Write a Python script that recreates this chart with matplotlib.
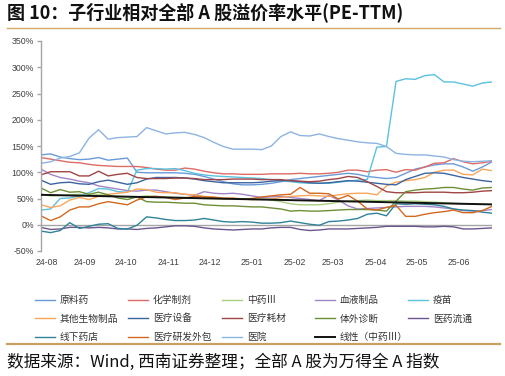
import numpy as np
import pandas as pd
import matplotlib
matplotlib.use("Agg")
import matplotlib.pyplot as plt
from matplotlib.lines import Line2D
from matplotlib.ticker import FuncFormatter, MultipleLocator

plt.rcParams['font.family'] = ['Noto Sans CJK SC', 'DejaVu Sans']

dates = pd.date_range('2024-08-02', periods=48, freq='7D')

yuanliaoyao = [133, 135, 129, 126, 124, 125, 128, 123, 125, 127, 100, 99, 99, 99, 99, 98, 96, 92, 87, 82,
               78, 76, 76, 77, 79, 82, 86, 88, 90, 92, 94, 96, 98, 96, 92, 90, 88, 90, 98, 106,
               110, 114, 116, 116, 110, 102, 110, 120]
huaxuezhiji = [128, 125, 122, 119, 118, 115, 113, 112, 111, 111, 111, 109, 106, 104, 104, 108, 106, 102, 99, 97,
               97, 96, 96, 96, 97, 97, 97, 98, 97, 97, 98, 100, 104, 104, 101, 104, 105, 100, 105, 104,
               110, 117, 118, 126, 120, 116, 118, 121]
zhongyao = [58, 55, 56, 57, 58, 56, 57, 56, 54, 53, 53, 55, 54, 53, 52, 52, 51, 50, 50, 49,
            50, 49, 48, 49, 47, 44, 40, 38, 38, 38, 40, 43, 45, 46, 47, 46, 46, 46, 45, 45,
            44, 43, 42, 41, 40, 40, 39, 39]
xueye = [106, 96, 90, 87, 83, 80, 74, 71, 68, 65, 64, 66, 66, 63, 60, 58, 56, 63, 60, 59,
         60, 58, 55, 52, 53, 54, 52, 50, 48, 46, 56, 47, 36, 30, 31, 32, 33, 34, 35, 35,
         35, 34, 32, 30, 27, 26, 27, 29]
yimiao = [28, 30, 50, 51, 55, 61, 69, 68, 63, 62, 104, 107, 107, 106, 107, 103, 98, 95, 93, 92,
          91, 90, 89, 88, 86, 84, 82, 80, 79, 79, 79, 81, 83, 85, 86, 148, 149, 273, 278, 277,
          284, 286, 272, 272, 268, 264, 270, 272]
qitasw = [38, 33, 36, 47, 52, 48, 54, 58, 60, 62, 68, 67, 62, 61, 61, 58, 57, 54, 53, 51,
          51, 49, 48, 48, 49, 52, 54, 55, 56, 55, 54, 57, 59, 60, 60, 57, 74, 81, 84, 86,
          90, 100, 104, 104, 96, 95, 106, 103]
shebei = [85, 77, 80, 81, 78, 77, 82, 85, 81, 77, 80, 87, 90, 90, 90, 89, 87, 84, 82, 80,
          80, 80, 80, 81, 83, 84, 84, 82, 80, 79, 80, 82, 84, 83, 81, 79, 77, 76, 86, 92,
          98, 99, 98, 94, 90, 87, 84, 82]
haocai = [95, 101, 101, 101, 93, 93, 102, 93, 96, 98, 90, 88, 88, 88, 89, 89, 88, 86, 86, 86,
          87, 87, 87, 86, 86, 86, 84, 83, 82, 83, 86, 88, 92, 90, 82, 73, 63, 61, 61, 61,
          62, 62, 62, 61, 61, 62, 64, 65]
tiwai = [70, 61, 67, 62, 63, 58, 62, 57, 51, 48, 53, 44, 43, 43, 42, 41, 41, 38, 37, 36,
         36, 35, 34, 34, 32, 30, 26, 27, 26, 26, 27, 28, 29, 29, 29, 28, 26, 45, 63, 66,
         68, 69, 71, 71, 68, 66, 70, 71]
liutong = [-5, -9, -8, -5, -5, -6, -5, -6, -8, -8, -9, -7, -6, -4, -2, -2, -3, -6, -8, -9,
           -10, -9, -8, -8, -6, -5, -5, -9, -11, -10, -8, -8, -8, -7, -6, -5, -3, -3, -3, -3,
           -4, -4, -3, -4, -8, -8, -7, -6]
yaodian = [-12, -15, -11, 4, -7, -3, 1, 2, -7, -8, -1, 15, 13, 10, 8, 8, 9, 12, 9, 6,
           5, 6, 5, 3, 3, 4, 7, 4, 1, -1, 6, 7, 9, 12, 20, 22, 17, 40, 39, 40,
           39, 38, 35, 30, 28, 27, 24, 22]
cro = [17, 8, 15, 28, 34, 34, 40, 44, 41, 38, 47, 53, 54, 52, 48, 51, 54, 53, 52, 50,
       50, 49, 50, 53, 55, 57, 58, 71, 60, 60, 59, 49, 56, 45, 30, 28, 33, 37, 16, 16,
       20, 23, 25, 28, 23, 23, 27, 35]
yiyuan = [117, 120, 127, 130, 137, 165, 181, 163, 166, 167, 168, 185, 179, 173, 175, 176, 172, 166, 157, 149,
          144, 144, 144, 143, 150, 168, 177, 170, 169, 173, 168, 164, 161, 158, 156, 155, 149, 136, 134, 133,
          133, 131, 129, 124, 121, 120, 121, 122]

names = ['原料药', '化学制剂', '中药Ⅲ', '血液制品', '疫苗',
         '其他生物制品', '医疗设备', '医疗耗材', '体外诊断', '医药流通',
         '线下药店', '医疗研发外包', '医院']
series = [yuanliaoyao, huaxuezhiji, zhongyao, xueye, yimiao,
          qitasw, shebei, haocai, tiwai, liutong,
          yaodian, cro, yiyuan]
colors = ['#6A9BD8', '#DD6B66', '#A8CF7F', '#A185C8', '#5BC2DE',
          '#F9A65A', '#3C64A0', '#A04545', '#6E8E35', '#6B568F',
          '#2F8398', '#D2691F', '#8DB3E2']
trend_name = '线性（中药Ⅲ）'
month_labels = ['24-08', '24-09', '24-10', '24-11', '24-12', '25-01',
                '25-02', '25-03', '25-04', '25-05', '25-06']

fig = plt.figure(figsize=(5.06, 3.76), dpi=100)
W, H = 506, 376
ax = fig.add_axes([41 / W, 1 - 251 / H, (492 - 41) / W, (251 - 41) / H])

handles = []
for name, vals, c in zip(names, series, colors):
    h, = ax.plot(dates, vals, color=c, lw=1.0, label=name, zorder=2)
    handles.append(h)

# linear trend of 中药Ⅲ
idx = np.arange(len(dates))
coef = np.polyfit(idx, zhongyao, 1)
th, = ax.plot(dates, np.polyval(coef, idx), color='#111111', lw=1.4, label=trend_name, zorder=3)
handles.append(th)

ax.axhline(0, color='#A6A6A6', lw=1.0, zorder=1)
ax.set_xlim(dates[0], dates[-1])
ax.set_ylim(-50, 350)
ax.yaxis.set_major_locator(MultipleLocator(50))
ax.yaxis.set_major_formatter(FuncFormatter(lambda v, p: f"{v:.0f}%"))

tick_dates = [max(pd.Timestamp('20' + m + '-01') + pd.Timedelta(days=2), dates[0] + pd.Timedelta(days=4))
              for m in month_labels]
ax.set_xticks(tick_dates)
ax.set_xticklabels(month_labels)

for s in ['top', 'right', 'bottom']:
    ax.spines[s].set_visible(False)
ax.spines['left'].set_color('#A6A6A6')
ax.spines['left'].set_linewidth(1.0)
ax.tick_params(axis='y', length=3, color='#A6A6A6', width=1.0, pad=2,
               labelsize=6.3, labelcolor='#404040', labelfontfamily='Liberation Sans')
ax.tick_params(axis='x', length=0, pad=5, labelsize=6.3, labelcolor='#404040',
               labelfontfamily='Liberation Sans')

# title and decorations
fig.text(7 / W, 1 - 12 / H, '图 10：子行业相对全部 A 股溢价率水平(PE-TTM)', fontsize=13,
         fontweight='bold', ha='left', va='center', color='#111111')
fig.add_artist(Line2D([7 / W, 500 / W], [1 - 28 / H] * 2, color='#D1A865', lw=1.0))
fig.add_artist(Line2D([7 / W, 500 / W], [1 - 344 / H] * 2, color='#C9A062', lw=1.6))
fig.text(7 / W, 1 - 362 / H, '数据来源：Wind, 西南证券整理；全部 A 股为万得全 A 指数', fontsize=12,
         style='italic', ha='left', va='center', color='#111111')

# legend: 5 columns, row-major order
col_x = [35, 128, 222, 315, 408]
for c in range(5):
    hs = [handles[k] for k in range(c, len(handles), 5)]
    fig.legend(hs, [h.get_label() for h in hs], loc='upper left',
               bbox_to_anchor=(col_x[c] / W, 1 - 295 / H), frameon=False,
               fontsize=7, handlelength=2.1, handletextpad=0.45, labelspacing=0.87,
               borderpad=0, borderaxespad=0, labelcolor='#333333')

fig.savefig('out.png', dpi=100)
